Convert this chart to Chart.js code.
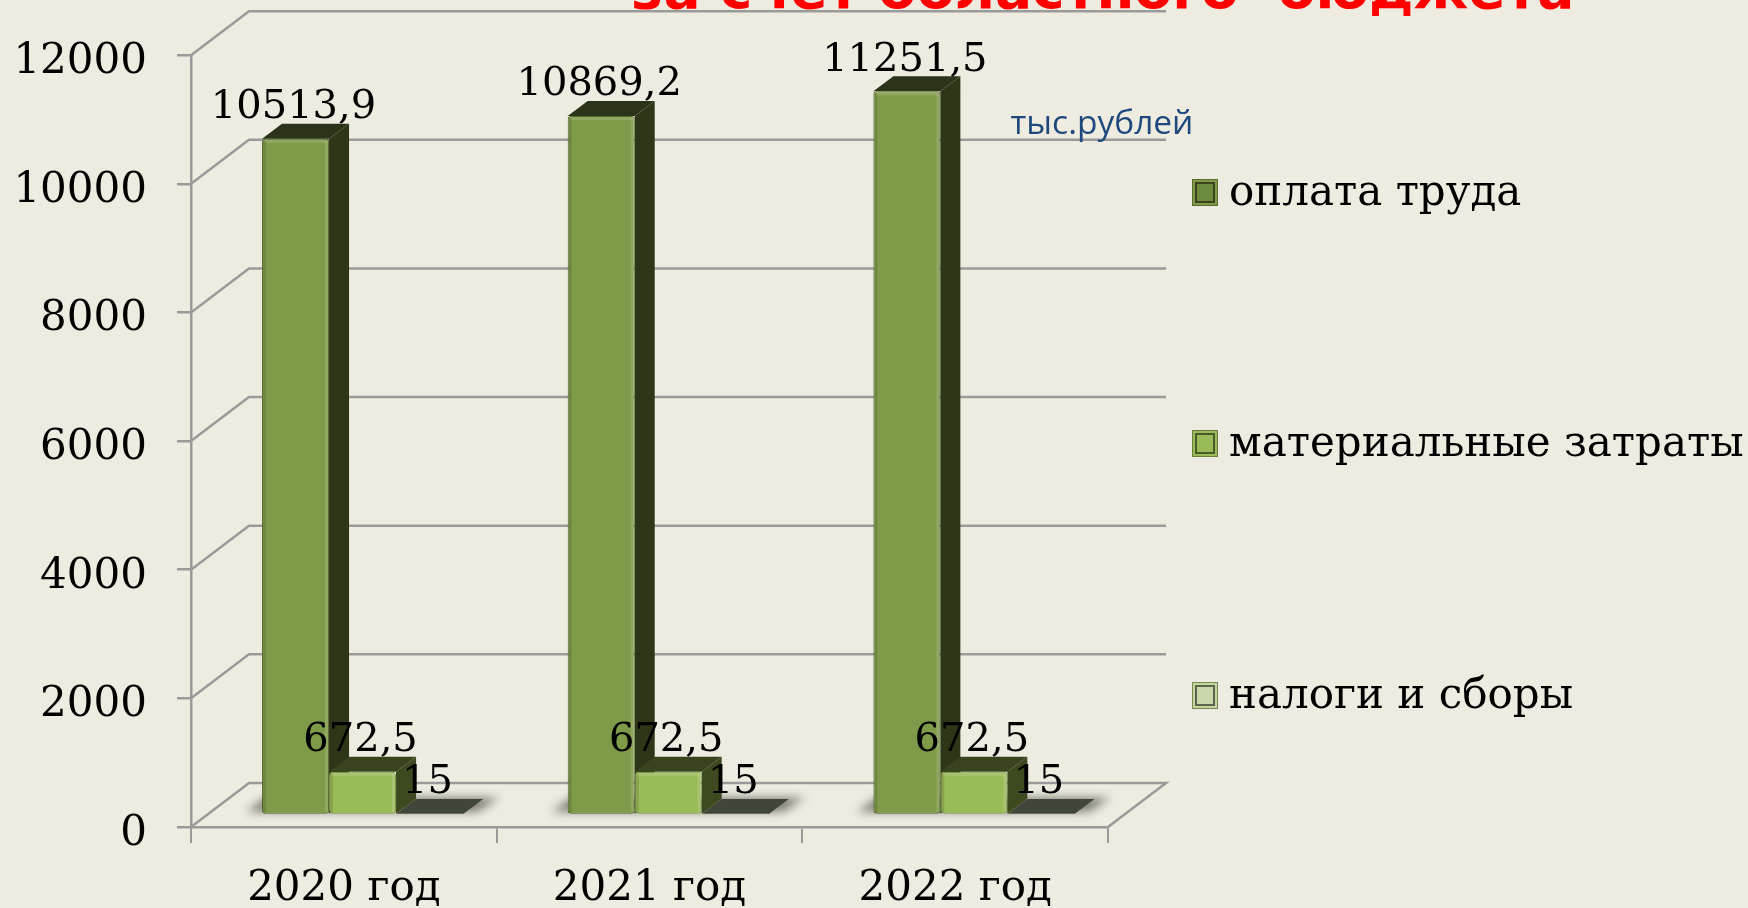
<!DOCTYPE html>
<html lang="ru"><head><meta charset="utf-8">
<style>html,body{margin:0;padding:0;background:#EEECE1;overflow:hidden}canvas{display:block}</style>
<script src="https://cdn.jsdelivr.net/npm/chart.js@4"></script></head>
<body><div style="width:1748px;height:908px"><canvas id="c" width="1748" height="908"></canvas></div>
<script>
const categories=['2020 год','2021 год','2022 год'];
const seriesNames=['оплата труда','материальные затраты','налоги и сборы'];
const wages=[10513.9,10869.2,11251.5];
const materials=[672.5,672.5,672.5];
const taxes=[15,15,15];
const frontColors=['#7F9A48','#9BBB59','#C3D69B'];
const sideColors=['#2E3618','#3D4A20','#41463A'];
const topColors=['#2B3318','#39441E','#41463A'];
const legendInner=['#6E8A3C','#9BBB59','#C9D8AB'];
const legendOuter=['#7F9A48','#9BBB59','#C3D69B'];
const legendEdge=['#3A4520','#4A5A28','#5A6650'];
const titleText='за счет областного  бюджета';
const unitText='тыс.рублей';
const serif='"DejaVu Serif"';
const GRID='#9A9A9A';
const depth={wallX:58,wallY:-44,barX:20,barY:-15,shiftX:18.7,shiftY:-12};
const fmt=v=>String(v).replace('.',',');

const scene={
 id:'scene',
 afterLayout(chart){
  chart.scales.y.getLabelItems(chart.chartArea).forEach(it=>{it.options.translation[1]+=7;});
 },
 beforeDatasetsDraw(chart){
  const {ctx,scales:{x,y}}=chart;
  const L=x.left,R=x.right,d=depth;
  ctx.save();
  ctx.strokeStyle=GRID;ctx.lineWidth=2.5;
  y.ticks.forEach(t=>{
   const py=y.getPixelForValue(t.value);
   ctx.beginPath();ctx.moveTo(L,py);ctx.lineTo(L+d.wallX,py+d.wallY);ctx.lineTo(R+d.wallX,py+d.wallY);
   if(t.value===0)ctx.lineTo(R,py);
   ctx.stroke();
  });
  categories.forEach((c,i)=>{
   const a=chart.getDatasetMeta(0).data[i],b=chart.getDatasetMeta(2).data[i];
   const l=a.x-a.width/2+d.shiftX,r=b.x+b.width/2+d.shiftX,py=a.base+d.shiftY;
   ctx.save();
   ctx.filter='blur(5px)';ctx.fillStyle='rgba(60,60,50,0.65)';
   ctx.beginPath();ctx.moveTo(l-16,py-2);ctx.lineTo(l+4,py-16);ctx.lineTo(r+36,py-16);ctx.lineTo(r+14,py-2);ctx.closePath();ctx.fill();
   ctx.restore();
  });
  ctx.translate(d.shiftX,d.shiftY);
  [0,1,2].forEach(s=>{
   chart.getDatasetMeta(s).data.forEach(el=>{
    const l=el.x-el.width/2,r=el.x+el.width/2,top=el.y,base=el.base;
    ctx.fillStyle=sideColors[s];
    ctx.beginPath();ctx.moveTo(r,top);ctx.lineTo(r+d.barX,top+d.barY);ctx.lineTo(r+d.barX,base+d.barY);ctx.lineTo(r,base);ctx.closePath();ctx.fill();
    ctx.fillStyle=topColors[s];
    ctx.beginPath();ctx.moveTo(l,top);ctx.lineTo(l+d.barX,top+d.barY);ctx.lineTo(r+d.barX,top+d.barY);ctx.lineTo(r,top);ctx.closePath();ctx.fill();
    el.draw(ctx);
    if(base-top>6){
     ctx.fillStyle='rgba(255,255,255,0.14)';
     ctx.fillRect(l+2,top+1,el.width-4,3);ctx.fillRect(r-4,top+2,3,base-top-4);
     ctx.fillStyle='rgba(0,0,0,0.12)';ctx.fillRect(l+1,top+2,3,base-top-3);
    }
   });
  });
  ctx.restore();
  ctx.save();ctx.fillStyle='#000';ctx.textAlign='center';ctx.textBaseline='middle';ctx.font='40px '+serif;
  [wages,materials,taxes].forEach((arr,s)=>{
   chart.getDatasetMeta(s).data.forEach((el,i)=>{
    ctx.fillText(fmt(arr[i]),el.x+d.shiftX-2,el.y+d.shiftY-31);
   });
  });
  ctx.restore();
  return false;
 },
 afterDraw(chart){
  const {ctx}=chart;
  ctx.save();
  ctx.fillStyle='#FF0000';ctx.font='bold 55px "DejaVu Sans"';ctx.textAlign='center';ctx.textBaseline='alphabetic';
  ctx.fillText(titleText,1103,8);
  ctx.fillStyle='#1F497D';ctx.font='33.5px "Open Sans"';ctx.textBaseline='middle';
  ctx.fillText(unitText,1102,124);
  const ys=[192,443,695];
  ctx.textAlign='left';ctx.font='42px '+serif;
  seriesNames.forEach((n,i)=>{
   const bx=1192,by=ys[i]-13,bw=26,bh=27;
   ctx.fillStyle=legendOuter[i];ctx.fillRect(bx,by,bw,bh);
   ctx.strokeStyle='rgba(60,75,30,0.55)';ctx.lineWidth=1;ctx.strokeRect(bx+.5,by+.5,bw-1,bh-1);
   ctx.fillStyle=legendInner[i];ctx.fillRect(bx+4,by+4,bw-8,bh-8);
   ctx.strokeStyle=legendEdge[i];ctx.lineWidth=2;ctx.strokeRect(bx+4,by+4,bw-8,bh-8);
   ctx.fillStyle='#000';ctx.fillText(n,1229,ys[i]+2);
  });
  ctx.restore();
 }
};

new Chart(document.getElementById('c'),{
 type:'bar',
 data:{labels:categories,datasets:[
  {label:seriesNames[0],data:wages,backgroundColor:frontColors[0],borderColor:'#55672F',borderWidth:1,borderRadius:3,borderSkipped:false},
  {label:seriesNames[1],data:materials,backgroundColor:frontColors[1],borderColor:'#7F9A48',borderWidth:1,borderRadius:4,borderSkipped:false},
  {label:seriesNames[2],data:taxes,backgroundColor:frontColors[2],borderWidth:0}
 ]},
 options:{
  responsive:false,animation:false,events:[],
  layout:{autoPadding:false,padding:{left:0,top:55,right:640,bottom:0}},
  datasets:{bar:{categoryPercentage:0.6576,barPercentage:1}},
  plugins:{legend:{display:false},tooltip:{enabled:false},title:{display:false}},
  scales:{
   x:{afterFit:s=>{s.height=81},
      border:{color:GRID,width:2.5},
      grid:{color:GRID,lineWidth:2,drawOnChartArea:false,drawTicks:true,tickLength:16},
      ticks:{color:'#000',font:{family:serif,size:42},padding:21,maxRotation:0}},
   y:{min:0,max:12000,afterFit:s=>{s.width=191},
      border:{color:GRID,width:2.5},
      grid:{color:GRID,lineWidth:2.5,drawOnChartArea:false,drawTicks:true,tickLength:14},
      ticks:{stepSize:2000,color:'#000',font:{family:serif,size:42},padding:30,callback:v=>String(v)}}
  }
 },
 plugins:[scene]
});
</script></body></html>
